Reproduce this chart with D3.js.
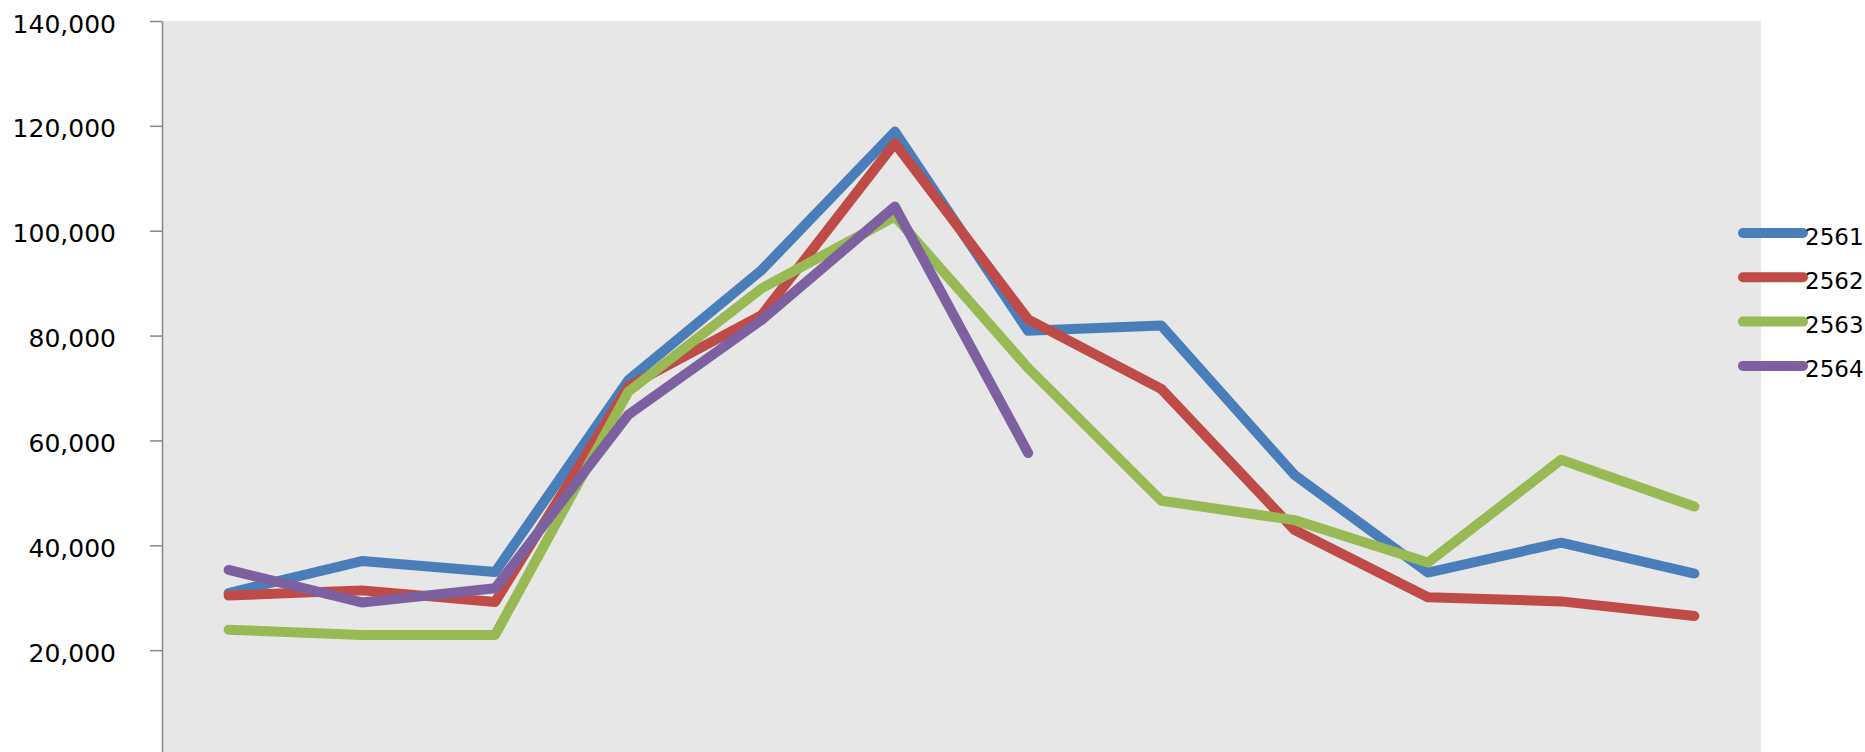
<!DOCTYPE html>
<html>
<head>
<meta charset="utf-8">
<script src="https://cdn.jsdelivr.net/npm/d3@7"></script>
<style>
  body { margin: 0; background: #fff; }
  svg { display: block; }
</style>
</head>
<body>
<script>
// months (no x labels drawn on the original chart)
const months = ["ม.ค.", "ก.พ.", "มี.ค.", "เม.ย.", "พ.ค.", "มิ.ย.", "ก.ค.", "ส.ค.", "ก.ย.", "ต.ค.", "พ.ย.", "ธ.ค."];
const years = ["2561", "2562", "2563", "2564"];

const y2561 = [30900, 37000, 34900, 71500, 92500, 118900, 80900, 81900, 53400, 34800, 40500, 34600];
const y2562 = [30400, 31400, 29200, 70300, 83900, 116700, 83100, 69800, 42900, 30100, 29300, 26500];
const y2563 = [23900, 22900, 22900, 69300, 89000, 102700, 73800, 48500, 44800, 36700, 56300, 47400];
const y2564 = [35300, 29100, 31800, 64900, 83000, 104600, 57600];

const yTicks = [20000, 40000, 60000, 80000, 100000, 120000, 140000];
const colors = ["#4a7ebb", "#be4b48", "#98b954", "#7d60a0"];

const W = 1865, H = 752;
const plot = { left: 162, right: 1761, top: 21, bottom: 755 };

const svg = d3.select("body").append("svg")
    .attr("width", W)
    .attr("height", H);

const x = d3.scaleBand()
    .domain(months)
    .range([plot.left, plot.right]);

const y = d3.scaleLinear()
    .domain([0, 140000])
    .range([plot.bottom, plot.top]);

// plot background
svg.append("rect")
    .attr("x", plot.left)
    .attr("y", plot.top)
    .attr("width", plot.right - plot.left)
    .attr("height", plot.bottom - plot.top)
    .attr("fill", "#e7e7e7");

// y axis
const yAxis = svg.append("g")
    .attr("transform", `translate(${plot.left},0)`)
    .call(d3.axisLeft(y)
        .tickValues(yTicks)
        .tickSize(12)
        .tickSizeOuter(0)
        .tickPadding(34)
        .tickFormat(d3.format(",")));

yAxis.select(".domain").attr("stroke", "#868686").attr("stroke-width", 1.5);
yAxis.selectAll(".tick line").attr("stroke", "#868686").attr("stroke-width", 1.5);
yAxis.selectAll(".tick text")
    .attr("fill", "#000")
    .attr("dy", "0.44em")
    .style("font-family", "'DejaVu Sans', Verdana, sans-serif")
    .style("font-size", "25px");

// series
const seriesList = [y2561, y2562, y2563, y2564];

const line = d3.line()
    .x((d, i) => x(months[i]) + x.bandwidth() / 2)
    .y(d => y(d));

seriesList.forEach((vals, k) => {
    svg.append("path")
        .datum(vals)
        .attr("d", line)
        .attr("fill", "none")
        .attr("stroke", colors[k])
        .attr("stroke-width", 10)
        .attr("stroke-linecap", "round")
        .attr("stroke-linejoin", "round");
});

// legend
const legend = svg.append("g").attr("transform", "translate(1743,233)");
years.forEach((yr, k) => {
    const g = legend.append("g").attr("transform", `translate(0,${k * 44.3})`);
    g.append("line")
        .attr("x1", 0).attr("x2", 60)
        .attr("stroke", colors[k])
        .attr("stroke-width", 10)
        .attr("stroke-linecap", "round");
    g.append("text")
        .attr("x", 62)
        .attr("dy", "0.5em")
        .style("font-family", "'DejaVu Sans', Verdana, sans-serif")
        .style("font-size", "23px")
        .text(yr);
});
</script>
</body>
</html>
